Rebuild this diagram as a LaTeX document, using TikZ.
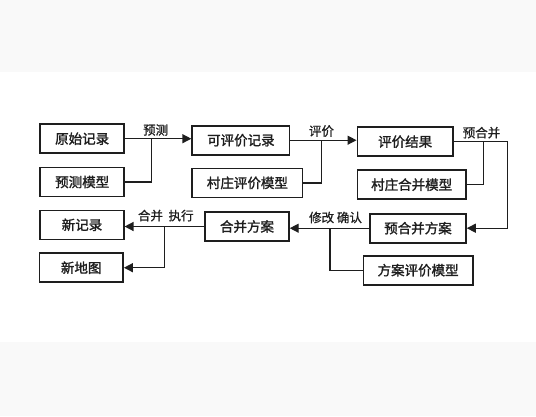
\documentclass[tikz,border=0pt]{standalone}
\usepackage{fontspec}
\newfontfamily\cjk{Noto Sans CJK SC}[FakeBold=1.6]
\newfontfamily\cjkl{Noto Sans CJK SC}[FakeBold=0.9]
\usetikzlibrary{arrows.meta}
\definecolor{band}{RGB}{249,249,249}
\definecolor{ink}{RGB}{30,30,30}
\begin{document}
\begin{tikzpicture}[x=1pt,y=-1pt,
  box/.style={draw=ink, line width=1.6pt, inner sep=0pt, minimum height=29pt, font=\cjk\fontsize{13.5}{14}\selectfont, text=ink},
  lbl/.style={inner sep=0pt, font=\cjkl\fontsize{12.5}{13}\selectfont, text=ink},
  conn/.style={draw=ink, line width=1.3pt},
  arr/.style={conn, -{Triangle[length=9pt,width=9pt]}}]
\useasboundingbox (0,0) rectangle (536,416);
\fill[band] (0,0) rectangle (536,72);
\fill[band] (0,342) rectangle (536,416);
% boxes
\node[box, minimum width=84pt]  (a) at (82.2,138.7) {原始记录};
\node[box, minimum width=84pt]  (b) at (82.2,182.0) {预测模型};
\node[box, minimum width=97.5pt] (c) at (240.9,140.2) {可评价记录};
\node[box, minimum width=110.5pt] (d) at (247.4,182.9) {村庄评价模型};
\node[box, minimum width=95.7pt] (e) at (405.2,141.7) {评价结果};
\node[box, minimum width=108.7pt] (f) at (411.7,184.7) {村庄合并模型};
\node[box, minimum width=83.5pt] (g) at (82.0,224.8) {新记录};
\node[box, minimum width=83.8pt] (h) at (81.2,267.7) {新地图};
\node[box, minimum width=83.8pt] (i) at (247.0,226.5) {合并方案};
\node[box, minimum width=96pt]  (j) at (418.0,228.2) {预合并方案};
\node[box, minimum width=109.4pt] (k) at (418.1,270.2) {方案评价模型};
% junction coordinates
\coordinate (p1) at (151.5,138.7);
\coordinate (p2) at (321.4,140.2);
\coordinate (p3) at (483.8,141.7);
\coordinate (r)  at (507.7,141.7);
\coordinate (p4) at (330.0,228.2);
\coordinate (p5) at (164.8,226.5);
% connectors
\draw[arr] (a.east) -- (a.east -| c.west);
\draw[conn] (b.east) -| (p1);
\draw[arr] (c.east) -- (c.east -| e.west);
\draw[conn] (d.east) -| (p2);
\draw[arr] (e.east) -- (r) |- (j.east);
\draw[conn] (f.east) -| (p3);
\draw[arr] (j.west) -- (j.west -| i.east);
\draw[conn] (k.west) -| (p4);
\draw[arr] (i.west) -- (i.west -| g.east);
\draw[arr] (p5) |- (h.east);
% labels
\node[lbl] (l1) at (155.6,130.0) {预测};
\node[lbl] (l2) at (321.5,131.0) {评价};
\node[lbl] (l3) at (481.5,132.7) {预合并};
\node[lbl] (l4) at (335.5,217.5) {修改 确认};
\node[lbl] (l5) at (165.8,215.6) {合并\ \ 执行};
\end{tikzpicture}
\end{document}
